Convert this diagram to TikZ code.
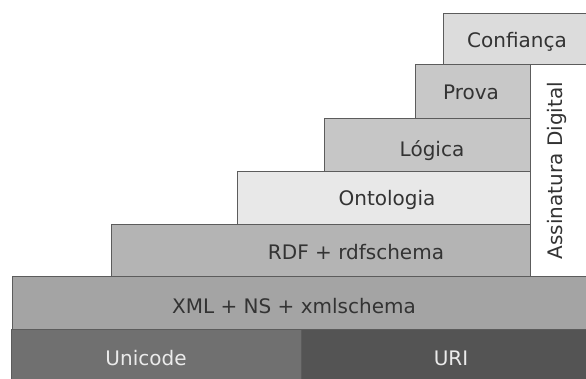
\documentclass[tikz,border=0pt]{standalone}
\usepackage{fontspec}
\setmainfont{DejaVu Sans}
\usepackage{tikz}
\definecolor{edgecol}{HTML}{5C5C5C}
\definecolor{confcol}{HTML}{DCDCDC}
\definecolor{provacol}{HTML}{C8C8C8}
\definecolor{logcol}{HTML}{C6C6C6}
\definecolor{ontocol}{HTML}{E8E8E8}
\definecolor{rdfcol}{HTML}{B4B4B4}
\definecolor{xmlcol}{HTML}{A4A4A4}
\definecolor{unicol}{HTML}{707070}
\definecolor{uricol}{HTML}{545454}
\tikzset{layer/.style={draw=edgecol, line width=.8pt},
  lbl/.style={anchor=base, inner sep=0pt, text=black!80, font=\fontsize{20}{24}\selectfont},
  darklbl/.style={lbl, text=white!92!black}}

\begin{document}
\begin{tikzpicture}[x=1pt,y=-1pt]
\useasboundingbox (0,0) rectangle (586,378);
\fill[white] (0,0) rectangle (586,378);

% layers, top to bottom
\draw[layer,fill=confcol] (443,13) rectangle (590,64);
\draw[layer,fill=white] (530,64) rectangle (590,276);
\draw[layer,fill=provacol] (415,64) rectangle (530,118);
\draw[layer,fill=logcol] (324,118) rectangle (530,171);
\draw[layer,fill=ontocol] (237,171) rectangle (530,224);
\draw[layer,fill=rdfcol] (111,224) rectangle (530,276);
\draw[layer,fill=xmlcol] (12,276) rectangle (590,329);
\draw[layer,fill=unicol] (11,329) rectangle (301,390);
\draw[layer,fill=uricol] (301,329) rectangle (590,390);

\node[lbl] (conf) at (517,47) {Confiança};
\node[lbl] (prova) at (471,99) {Prova};
\node[lbl] (logica) at (432,156) {Lógica};
\node[lbl] (onto) at (387,205) {Ontologia};
\node[lbl] (rdf) at (356,259) {RDF + rdfschema};
\node[lbl] (xml) at (294,313) {XML + NS + xmlschema};
\node[darklbl] (unicode) at (146,365) {Unicode};
\node[darklbl] (uri) at (451,365) {URI};
\node[lbl, anchor=center, rotate=90] (assin) at (557,170.5) {Assinatura Digital};
\end{tikzpicture}
\end{document}
